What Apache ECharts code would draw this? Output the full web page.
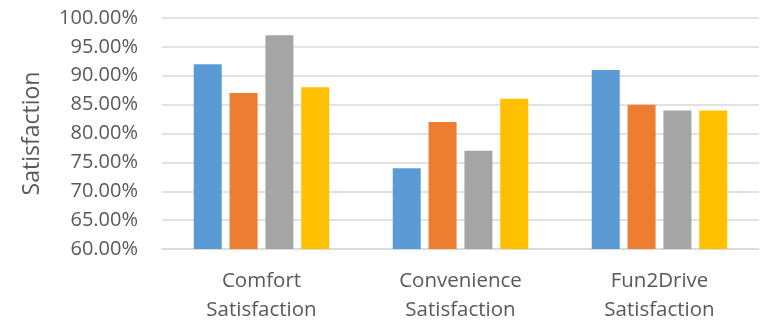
<!DOCTYPE html>
<html>
<head>
<meta charset="utf-8">
<script src="https://cdn.jsdelivr.net/npm/echarts@6/dist/echarts.min.js"></script>
<style>
  html, body { margin: 0; padding: 0; background: #ffffff; }
  #chart { width: 767px; height: 321px; }
</style>
</head>
<body>
<div id="chart"></div>
<script>
// Satisfaction scores (percent) per category for four groups
const categories = ['Comfort\nSatisfaction', 'Convenience\nSatisfaction', 'Fun2Drive\nSatisfaction'];
const seriesA = [92, 74, 91];
const seriesB = [87, 82, 85];
const seriesC = [97, 77, 84];
const seriesD = [88, 86, 84];
const yMin = 60, yMax = 100, yStep = 5;

const colors = ['#5B9BD5', '#ED7D31', '#A5A5A5', '#FFC000'];
const textColor = '#595959';
const fontFamily = '"Open Sans", "Noto Sans", sans-serif';

const chart = echarts.init(document.getElementById('chart'), null, { renderer: 'canvas' });

function bar(data, i) {
  return {
    type: 'bar',
    data: data,
    barWidth: 28,
    barGap: '28%',
    itemStyle: { color: colors[i] },
    animation: false
  };
}

chart.setOption({
  animation: false,
  grid: { left: 162, right: 8, top: 18, bottom: 72, outerBoundsMode: 'none', containLabel: false },
  xAxis: {
    type: 'category',
    data: categories,
    axisTick: { show: false },
    axisLine: { lineStyle: { color: '#D9D9D9', width: 1.5 } },
    axisLabel: {
      color: textColor,
      fontFamily: fontFamily,
      fontSize: 20.5,
      lineHeight: 29,
      margin: 18
    }
  },
  yAxis: {
    type: 'value',
    min: yMin,
    max: yMax,
    interval: yStep,
    name: 'Satisfaction',
    nameLocation: 'middle',
    nameRotate: 90,
    nameGap: 118,
    nameTextStyle: { color: textColor, fontFamily: fontFamily, fontSize: 23 },
    axisLine: { show: false },
    axisTick: { show: false },
    splitLine: { lineStyle: { color: '#D9D9D9', width: 1.5 } },
    axisLabel: {
      color: textColor,
      fontFamily: fontFamily,
      fontSize: 20,
      margin: 24,
      formatter: v => v.toFixed(2) + '%'
    }
  },
  series: [bar(seriesA, 0), bar(seriesB, 1), bar(seriesC, 2), bar(seriesD, 3)]
});
</script>
</body>
</html>
